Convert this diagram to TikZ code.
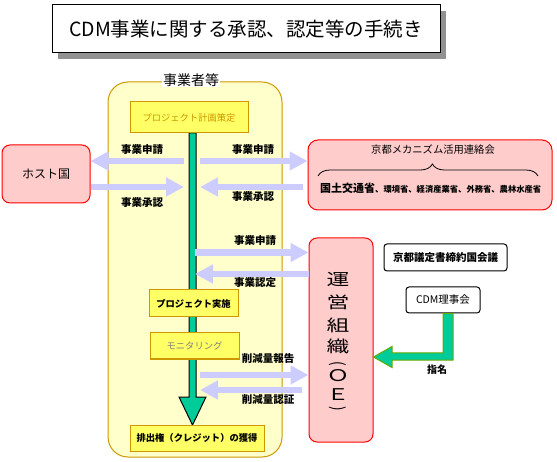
\documentclass[tikz,border=0pt]{standalone}
\usepackage{fontspec}
\newfontfamily\jp{Noto Sans CJK JP}
\usetikzlibrary{arrows.meta,decorations.pathreplacing,shadows,calc}
\definecolor{lav}{RGB}{204,204,255}
\definecolor{pinkf}{RGB}{255,204,204}
\definecolor{redb}{RGB}{255,0,0}
\definecolor{frameF}{RGB}{255,255,204}
\definecolor{gold}{RGB}{204,153,0}
\definecolor{boxY}{RGB}{255,255,102}
\definecolor{teal}{RGB}{0,204,153}
\definecolor{olive}{RGB}{102,170,0}
\definecolor{shadowg}{RGB}{145,145,145}
\newcommand\oeg[1]{\scalebox{1.2}[0.85]{#1}}
\begin{document}
\begin{tikzpicture}[x=1pt,y=-1pt,
  lbl/.style={font=\jp\bfseries\fontsize{10.5}{12}\selectfont, inner sep=0},
  ybox/.style={draw=gold, fill=boxY, line width=1pt, inner sep=0, font=\jp\bfseries\fontsize{9.3}{11}\selectfont},
  pbox/.style={draw=redb, fill=pinkf, line width=1pt, inner sep=0},
  wbox/.style={draw=black, fill=white, line width=1pt, rounded corners=3pt, inner sep=0, font=\jp\fontsize{10.5}{12}\selectfont},
  blk/.style={draw=lav, line width=6.5pt, -{Triangle[length=18pt,width=18pt]}},
  oech/.style={inner sep=0, font=\jp\fontsize{19}{22}\selectfont},
]
\useasboundingbox (0,0) rectangle (557,462);
\fill[white] (0,0) rectangle (557,462);

% title
\node[draw=black, fill=white, line width=1pt, minimum width=388pt, minimum height=48pt,
  drop shadow={shadow xshift=6pt, shadow yshift=-6pt, fill=shadowg, opacity=1},
  font=\jp\fontsize{19.5}{22}\selectfont] (title) at (246,29) {CDM事業に関する承認、認定等の手続き};

% frame
\node[draw=gold, fill=frameF, line width=1pt, rounded corners=20pt, minimum width=174pt, minimum height=375pt] (frame) at (195,269.5) {};
\node[fill=white, inner sep=1pt, font=\jp\fontsize{14}{16}\selectfont] (actor) at (191,80) {事業者等};

% main green arrow
\coordinate (mtop) at (192.5,133);
\coordinate (mtip) at (192.5,425);
\filldraw[fill=teal, draw=black, line width=1pt]
  ($(mtop)+(-3.5,0)$) -- ($(mtop)+(3.5,0)$) -- (196,397) -- (206,397) -- (mtip) -- (179,397) -- (189,397) -- cycle;

% process boxes
\node[ybox, minimum width=118pt, minimum height=31pt, text=gold, font=\jp\fontsize{9.3}{11}\selectfont] (plan) at (189,117.5) {プロジェクト計画策定};
\node[ybox, minimum width=89pt, minimum height=27pt] (impl) at (193.5,303.5) {プロジェクト実施};
\node[ybox, minimum width=89pt, minimum height=26pt, text=gray, font=\jp\fontsize{9.3}{11}\selectfont] (mon) at (194.5,346) {モニタリング};
\node[ybox, minimum width=134pt, minimum height=26pt] (final) at (197,438) {排出権（クレジット）の獲得};

% host country
\node[pbox, rounded corners=8pt, minimum width=88pt, minimum height=58pt, font=\jp\fontsize{12}{14}\selectfont] (host) at (46,174) {ホスト国};

% kyoto mechanism box
\node[pbox, rounded corners=10pt, minimum width=244pt, minimum height=70pt] (kyoto) at (430,175) {};
\node[font=\jp\fontsize{10.3}{12}\selectfont, inner sep=0] (kyt) at (433,150) {京都メカニズム活用連絡会};
\coordinate (brL) at (318,176);
\coordinate (brR) at (538,176);
\draw[decorate, decoration={brace, amplitude=12pt, aspect=0.52}, line width=0.8pt] (brL) -- (brR);
\node[inner sep=0, anchor=west] (mins) at (320,188) {\jp\bfseries{\fontsize{11}{12}\selectfont 国土交通省}{\fontsize{8.3}{10}\selectfont 、環境省、経済産業省、外務省、農林水産省}};

% OE
\node[pbox, rounded corners=8pt, minimum width=64pt, minimum height=204pt] (oe) at (341,340) {};
\node[oech] (oe1) at (338,280) {\oeg{運}};
\node[oech] (oe2) at (338,302) {\oeg{営}};
\node[oech] (oe3) at (338,325) {\oeg{組}};
\node[oech] (oe4) at (338,346.5) {\oeg{織}};
\node[oech, rotate=-90, font=\jp\fontsize{17}{20}\selectfont] (oe5) at (338,364) {\scalebox{0.8}[1]{(}};
\node[oech] (oe6) at (338,375.5) {\oeg{Ｏ}};
\node[oech] (oe7) at (338,395) {\oeg{Ｅ}};
\node[oech, rotate=-90, font=\jp\fontsize{17}{20}\selectfont] (oe8) at (338,409) {\scalebox{0.8}[1]{)}};

% white boxes
\node[wbox, minimum width=123pt, minimum height=27pt, font=\jp\bfseries\fontsize{10.5}{12}\selectfont] (conf) at (445.5,257.5) {京都議定書締約国会議};
\node[wbox, minimum width=74pt, minimum height=26pt] (cdm) at (443,300) {CDM理事会};

% elbow green arrow
\filldraw[fill=teal, draw=olive, line width=1pt]
  ($(cdm.south)+(0,0)$) -- ($(cdm.south)+(10,0)$) -- (453,360) -- (392,360) -- (392,367.5) -- (oe.east |- 0,357) -- (392,346.5) -- (392,353) -- (443,353) -- cycle;
\node[lbl, font=\jp\bfseries\fontsize{10}{12}\selectfont] (shimei) at (437,370) {指名};

% lavender arrows
\coordinate (b1) at (184,161);
\coordinate (b2) at (184,187);
\coordinate (b3) at (200,161);
\coordinate (b4) at (200,187);
\coordinate (b5) at (195,252.5);
\coordinate (b6) at (195,274);
\coordinate (b7) at (200,375);
\coordinate (b8) at (200,390);
\draw[blk] (b1) -- (host.east |- b1);
\draw[blk] (host.east |- b2) -- (b2);
\draw[blk] (b3) -- (kyoto.west |- b3);
\draw[blk] ($(kyoto.west |- b4)+(-5,0)$) -- (b4);
\draw[blk] (b5) -- (oe.west |- b5);
\draw[blk] (oe.west |- b6) -- (b6);
\draw[blk] (b7) -- (oe.west |- b7);
\draw[blk] ($(oe.west |- b8)+(-7,0)$) -- (b8);

% labels
\node[lbl] (l1) at (142,150) {事業申請};
\node[lbl] (l2) at (142,203) {事業承認};
\node[lbl] (l3) at (253,150) {事業申請};
\node[lbl] (l4) at (253,197) {事業承認};
\node[lbl] (l5) at (255,241) {事業申請};
\node[lbl] (l6) at (255,283) {事業認定};
\node[lbl] (l7) at (268,359) {削減量報告};
\node[lbl] (l8) at (268,400) {削減量認証};
\end{tikzpicture}
\end{document}
